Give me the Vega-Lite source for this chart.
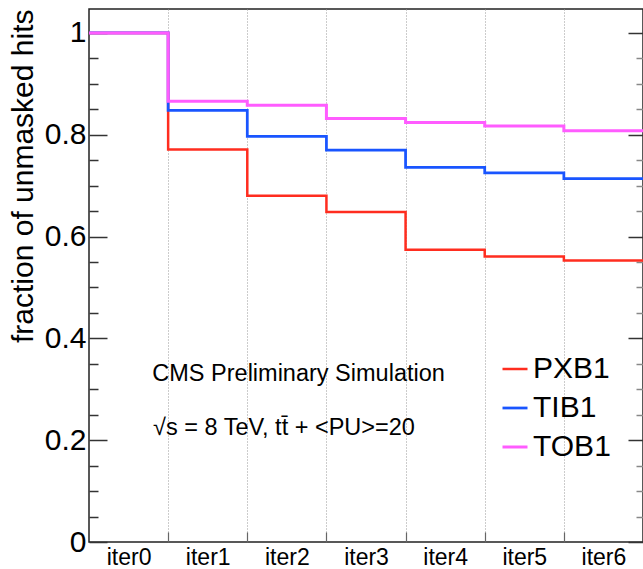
{
  "$schema": "https://vega.github.io/schema/vega-lite/v6.json",
  "width": 554,
  "height": 533,
  "autosize": {"type": "none"},
  "padding": {"left": 89, "top": 9, "right": 0, "bottom": 27},
  "background": "white",
  "config": {
    "font": "Liberation Sans",
    "view": {"stroke": "#222", "strokeWidth": 1.5},
    "axis": {"labelFont": "Liberation Sans", "titleFont": "Liberation Sans", "labelColor": "#000", "titleColor": "#000"}
  },
  "datasets": {
    "steps": [
      {"series": "PXB1", "edge": 0, "value": 1.0},
      {"series": "PXB1", "edge": 1, "value": 0.771},
      {"series": "PXB1", "edge": 2, "value": 0.680},
      {"series": "PXB1", "edge": 3, "value": 0.648},
      {"series": "PXB1", "edge": 4, "value": 0.574},
      {"series": "PXB1", "edge": 5, "value": 0.561},
      {"series": "PXB1", "edge": 6, "value": 0.553},
      {"series": "PXB1", "edge": 7, "value": 0.553},
      {"series": "TIB1", "edge": 0, "value": 1.0},
      {"series": "TIB1", "edge": 1, "value": 0.848},
      {"series": "TIB1", "edge": 2, "value": 0.797},
      {"series": "TIB1", "edge": 3, "value": 0.770},
      {"series": "TIB1", "edge": 4, "value": 0.736},
      {"series": "TIB1", "edge": 5, "value": 0.725},
      {"series": "TIB1", "edge": 6, "value": 0.714},
      {"series": "TIB1", "edge": 7, "value": 0.714},
      {"series": "TOB1", "edge": 0, "value": 1.0},
      {"series": "TOB1", "edge": 1, "value": 0.866},
      {"series": "TOB1", "edge": 2, "value": 0.858},
      {"series": "TOB1", "edge": 3, "value": 0.832},
      {"series": "TOB1", "edge": 4, "value": 0.824},
      {"series": "TOB1", "edge": 5, "value": 0.817},
      {"series": "TOB1", "edge": 6, "value": 0.808},
      {"series": "TOB1", "edge": 7, "value": 0.808}
    ],
    "notes": [
      {"note": "CMS Preliminary Simulation", "edge": 0.8, "value": 0.33},
      {"note": "√s = 8 TeV, tt̄ + <PU>=20", "edge": 0.81, "value": 0.2235}
    ]
  },
  "layer": [
    {
      "data": {"name": "steps"},
      "mark": {"type": "line", "interpolate": "step-after", "clip": true},
      "encoding": {
        "x": {
          "field": "edge", "type": "quantitative",
          "scale": {"domain": [0, 7], "nice": false, "zero": false},
          "axis": {
            "title": null, "values": [1, 2, 3, 4, 5, 6, 7],
            "labelExpr": "'iter' + (datum.value - 1)",
            "labelOffset": -39.57, "labelFlush": false, "labelOverlap": false,
            "labelFontSize": 23, "labelPadding": 14,
            "tickSize": -10, "tickColor": "#666", "tickWidth": 1.2,
            "grid": true, "gridColor": "#999", "gridDash": [1, 2], "gridWidth": 1,
            "domain": false
          }
        },
        "y": {
          "field": "value", "type": "quantitative",
          "scale": {"domain": [0, 1.047], "nice": false},
          "axis": {
            "orient": "left",
            "values": [0, 0.2, 0.4, 0.6, 0.8, 1],
            "format": "~g",
            "title": "fraction of unmasked hits",
            "titleFontSize": 30, "titleFontWeight": "normal", "titleAnchor": "end", "titlePadding": 6,
            "labelFontSize": 30, "labelPadding": 21,
            "tickSize": -18, "tickColor": "#333", "tickWidth": 1.5,
            "grid": false, "domain": false
          }
        },
        "color": {
          "field": "series", "type": "nominal",
          "scale": {"domain": ["PXB1", "TIB1", "TOB1"], "range": ["#ff2d1f", "#1955ff", "#ff5cff"]},
          "legend": {
            "title": null, "orient": "none", "legendX": 411, "legendY": 345,
            "symbolType": "stroke", "symbolSize": 625, "symbolStrokeWidth": 2.5,
            "labelFontSize": 30, "labelOffset": 3, "labelFont": "Liberation Sans", "labelColor": "#000",
            "rowPadding": 9, "padding": 0
          }
        },
        "strokeWidth": {
          "field": "series", "type": "nominal",
          "scale": {"domain": ["PXB1", "TIB1", "TOB1"], "range": [2.5, 3, 2]},
          "legend": null
        }
      }
    },
    {
      "data": {"name": "steps"},
      "mark": {"type": "line", "strokeOpacity": 0},
      "encoding": {
        "x": {"field": "edge", "type": "quantitative"},
        "y": {
          "field": "value", "type": "quantitative",
          "axis": {
            "orient": "left",
            "values": [0.05, 0.1, 0.15, 0.25, 0.3, 0.35, 0.45, 0.5, 0.55, 0.65, 0.7, 0.75, 0.85, 0.9, 0.95],
            "labels": false, "title": null, "domain": false, "grid": false,
            "tickSize": -9, "tickColor": "#333", "tickWidth": 1.5
          }
        },
        "detail": {"field": "series"}
      }
    },
    {
      "data": {"name": "steps"},
      "mark": {"type": "line", "strokeOpacity": 0},
      "encoding": {
        "x": {"field": "edge", "type": "quantitative"},
        "y": {
          "field": "value", "type": "quantitative",
          "axis": {
            "orient": "right",
            "values": [0, 0.2, 0.4, 0.6, 0.8, 1],
            "labels": false, "title": null, "domain": false, "grid": false,
            "tickSize": -15, "tickColor": "#333", "tickWidth": 1.5
          }
        },
        "detail": {"field": "series"}
      }
    },
    {
      "data": {"name": "steps"},
      "mark": {"type": "line", "strokeOpacity": 0},
      "encoding": {
        "x": {"field": "edge", "type": "quantitative"},
        "y": {
          "field": "value", "type": "quantitative",
          "axis": {
            "orient": "right",
            "values": [0.05, 0.1, 0.15, 0.25, 0.3, 0.35, 0.45, 0.5, 0.55, 0.65, 0.7, 0.75, 0.85, 0.9, 0.95],
            "labels": false, "title": null, "domain": false, "grid": false,
            "tickSize": -7, "tickColor": "#888", "tickWidth": 1.5
          }
        },
        "detail": {"field": "series"}
      }
    },
    {
      "data": {"name": "notes"},
      "mark": {"type": "text", "align": "left", "baseline": "middle", "fontSize": 23.5, "font": "Liberation Sans", "color": "#000"},
      "encoding": {
        "x": {"field": "edge", "type": "quantitative"},
        "y": {"field": "value", "type": "quantitative", "axis": null},
        "text": {"field": "note"}
      }
    }
  ],
  "resolve": {"axis": {"y": "independent"}}
}
